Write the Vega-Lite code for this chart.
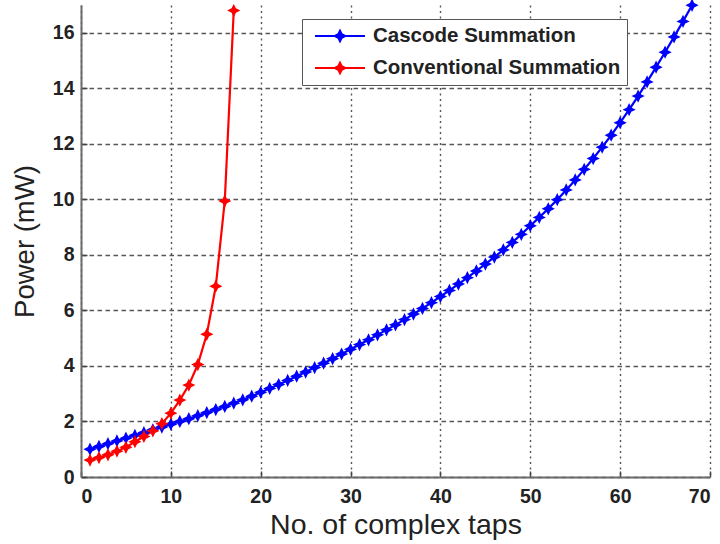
{
  "$schema": "https://vega.github.io/schema/vega-lite/v6.json",
  "width": 629,
  "height": 472,
  "autosize": {"type": "none"},
  "padding": {"left": 81, "top": 5, "right": 10, "bottom": 67},
  "background": "white",
  "config": {
    "view": {"stroke": null},
    "font": "Liberation Sans",
    "axis": {
      "domainColor": "#6b6b6b",
      "domainWidth": 2,
      "tickColor": "#444",
      "tickWidth": 1.5,
      "tickSize": -6,
      "labelFont": "Liberation Sans",
      "labelFontSize": 19.5,
      "labelFontWeight": "bold",
      "labelColor": "#222",
      "titleFont": "Liberation Sans",
      "titleFontWeight": "normal",
      "titleColor": "#222",
      "gridColor": "#555",
      "gridWidth": 1.4,
      "gridOpacity": 1
    }
  },
  "data": {
    "values": [
      {"series": "Cascode Summation", "x": 1, "y": 1.00},
      {"series": "Cascode Summation", "x": 2, "y": 1.10},
      {"series": "Cascode Summation", "x": 3, "y": 1.20},
      {"series": "Cascode Summation", "x": 4, "y": 1.30},
      {"series": "Cascode Summation", "x": 5, "y": 1.40},
      {"series": "Cascode Summation", "x": 6, "y": 1.50},
      {"series": "Cascode Summation", "x": 7, "y": 1.60},
      {"series": "Cascode Summation", "x": 8, "y": 1.70},
      {"series": "Cascode Summation", "x": 9, "y": 1.80},
      {"series": "Cascode Summation", "x": 10, "y": 1.90},
      {"series": "Cascode Summation", "x": 11, "y": 2.00},
      {"series": "Cascode Summation", "x": 12, "y": 2.10},
      {"series": "Cascode Summation", "x": 13, "y": 2.21},
      {"series": "Cascode Summation", "x": 14, "y": 2.32},
      {"series": "Cascode Summation", "x": 15, "y": 2.43},
      {"series": "Cascode Summation", "x": 16, "y": 2.54},
      {"series": "Cascode Summation", "x": 17, "y": 2.66},
      {"series": "Cascode Summation", "x": 18, "y": 2.78},
      {"series": "Cascode Summation", "x": 19, "y": 2.91},
      {"series": "Cascode Summation", "x": 20, "y": 3.05},
      {"series": "Cascode Summation", "x": 21, "y": 3.19},
      {"series": "Cascode Summation", "x": 22, "y": 3.33},
      {"series": "Cascode Summation", "x": 23, "y": 3.48},
      {"series": "Cascode Summation", "x": 24, "y": 3.63},
      {"series": "Cascode Summation", "x": 25, "y": 3.78},
      {"series": "Cascode Summation", "x": 26, "y": 3.94},
      {"series": "Cascode Summation", "x": 27, "y": 4.10},
      {"series": "Cascode Summation", "x": 28, "y": 4.26},
      {"series": "Cascode Summation", "x": 29, "y": 4.43},
      {"series": "Cascode Summation", "x": 30, "y": 4.60},
      {"series": "Cascode Summation", "x": 31, "y": 4.77},
      {"series": "Cascode Summation", "x": 32, "y": 4.94},
      {"series": "Cascode Summation", "x": 33, "y": 5.12},
      {"series": "Cascode Summation", "x": 34, "y": 5.30},
      {"series": "Cascode Summation", "x": 35, "y": 5.48},
      {"series": "Cascode Summation", "x": 36, "y": 5.67},
      {"series": "Cascode Summation", "x": 37, "y": 5.87},
      {"series": "Cascode Summation", "x": 38, "y": 6.07},
      {"series": "Cascode Summation", "x": 39, "y": 6.28},
      {"series": "Cascode Summation", "x": 40, "y": 6.50},
      {"series": "Cascode Summation", "x": 41, "y": 6.72},
      {"series": "Cascode Summation", "x": 42, "y": 6.95},
      {"series": "Cascode Summation", "x": 43, "y": 7.18},
      {"series": "Cascode Summation", "x": 44, "y": 7.42},
      {"series": "Cascode Summation", "x": 45, "y": 7.67},
      {"series": "Cascode Summation", "x": 46, "y": 7.92},
      {"series": "Cascode Summation", "x": 47, "y": 8.18},
      {"series": "Cascode Summation", "x": 48, "y": 8.45},
      {"series": "Cascode Summation", "x": 49, "y": 8.74},
      {"series": "Cascode Summation", "x": 50, "y": 9.05},
      {"series": "Cascode Summation", "x": 51, "y": 9.35},
      {"series": "Cascode Summation", "x": 52, "y": 9.66},
      {"series": "Cascode Summation", "x": 53, "y": 9.99},
      {"series": "Cascode Summation", "x": 54, "y": 10.34},
      {"series": "Cascode Summation", "x": 55, "y": 10.70},
      {"series": "Cascode Summation", "x": 56, "y": 11.08},
      {"series": "Cascode Summation", "x": 57, "y": 11.47},
      {"series": "Cascode Summation", "x": 58, "y": 11.88},
      {"series": "Cascode Summation", "x": 59, "y": 12.31},
      {"series": "Cascode Summation", "x": 60, "y": 12.76},
      {"series": "Cascode Summation", "x": 61, "y": 13.23},
      {"series": "Cascode Summation", "x": 62, "y": 13.72},
      {"series": "Cascode Summation", "x": 63, "y": 14.23},
      {"series": "Cascode Summation", "x": 64, "y": 14.76},
      {"series": "Cascode Summation", "x": 65, "y": 15.30},
      {"series": "Cascode Summation", "x": 66, "y": 15.85},
      {"series": "Cascode Summation", "x": 67, "y": 16.41},
      {"series": "Cascode Summation", "x": 68, "y": 16.99},
      {"series": "Conventional Summation", "x": 1, "y": 0.61},
      {"series": "Conventional Summation", "x": 2, "y": 0.70},
      {"series": "Conventional Summation", "x": 3, "y": 0.80},
      {"series": "Conventional Summation", "x": 4, "y": 0.93},
      {"series": "Conventional Summation", "x": 5, "y": 1.07},
      {"series": "Conventional Summation", "x": 6, "y": 1.27},
      {"series": "Conventional Summation", "x": 7, "y": 1.46},
      {"series": "Conventional Summation", "x": 8, "y": 1.66},
      {"series": "Conventional Summation", "x": 9, "y": 1.92},
      {"series": "Conventional Summation", "x": 10, "y": 2.30},
      {"series": "Conventional Summation", "x": 11, "y": 2.77},
      {"series": "Conventional Summation", "x": 12, "y": 3.31},
      {"series": "Conventional Summation", "x": 13, "y": 4.05},
      {"series": "Conventional Summation", "x": 14, "y": 5.14},
      {"series": "Conventional Summation", "x": 15, "y": 6.87},
      {"series": "Conventional Summation", "x": 16, "y": 9.94},
      {"series": "Conventional Summation", "x": 17, "y": 16.8}
    ]
  },
  "encoding": {
    "x": {
      "field": "x", "type": "quantitative",
      "scale": {"domain": [0, 70], "nice": false},
      "axis": {"values": [0, 10, 20, 30, 40, 50, 60, 70], "title": "No. of complex taps", "titleFontSize": 28.5, "labelPadding": 16, "titlePadding": 5, "grid": true, "gridDash": [2, 3.5]}
    },
    "y": {
      "field": "y", "type": "quantitative",
      "scale": {"domain": [0, 17], "nice": false},
      "axis": {"values": [0, 2, 4, 6, 8, 10, 12, 14, 16], "title": "Power (mW)", "titleFontSize": 27.5, "labelPadding": 13, "titlePadding": 13, "grid": true, "gridDash": [4.5, 3.5]}
    },
    "color": {
      "field": "series", "type": "nominal",
      "scale": {"domain": ["Cascode Summation", "Conventional Summation"], "range": ["#0000ff", "#ff0000"]},
      "legend": {
        "orient": "none", "legendX": 221, "legendY": 14,
        "title": null,
        "symbolType": "M-2.6,0H2.6M0,-0.55L0.18,-0.18L0.55,0L0.18,0.18L0,0.55L-0.18,0.18L-0.55,0L-0.18,-0.18Z",
        "symbolSize": 370,
        "symbolStrokeWidth": 2,
        "symbolOffset": 21,
        "labelFont": "Liberation Sans", "labelFontSize": 20.5, "labelFontWeight": "bold", "labelColor": "#222",
        "labelLimit": 0,
        "labelOffset": 22,
        "rowPadding": 10,
        "padding": 6,
        "strokeColor": "#555",
        "fillColor": "white",
        "encode": {"symbols": {"update": {"fill": {"scale": "color", "field": "value"}, "stroke": {"scale": "color", "field": "value"}, "strokeWidth": {"value": 2}}}}
      }
    }
  },
  "layer": [
    {"mark": {"type": "line", "strokeWidth": 2.2}},
    {"mark": {"type": "point", "filled": true, "opacity": 1, "size": 175, "shape": "M0,-1L0.33,-0.33L1,0L0.33,0.33L0,1L-0.33,0.33L-1,0L-0.33,-0.33Z"}}
  ]
}
